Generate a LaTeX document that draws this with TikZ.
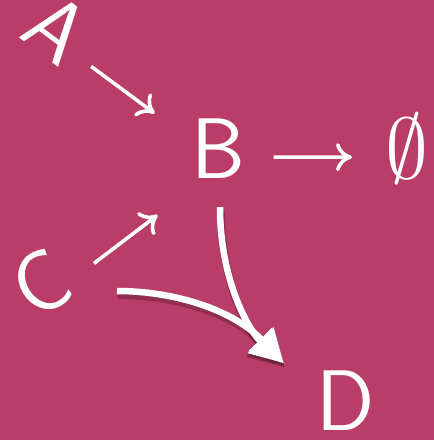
\documentclass[tikz,border=0pt]{standalone}
\usetikzlibrary{arrows.meta}
\definecolor{raspberry}{RGB}{185,61,104}
\begin{document}
\begin{tikzpicture}[x=1pt,y=-1pt,
        letter/.style={text=white,inner sep=0pt,font=\fontsize{86}{90}\selectfont\sffamily},
        thinarrow/.style={white,line width=3.6pt,-{Computer Modern Rightarrow[length=16pt,width=28pt]}},
        fatarrow/.style={white,line width=6.5pt,-{Triangle[length=33pt,width=33pt]}},
        fatshadow/.style={black,opacity=0.22,line width=8pt,-{Triangle[length=35pt,width=36pt]}}]
            \useasboundingbox (0,0) rectangle (434,440);
            \fill[raspberry] (0,0) rectangle (434,440);
            \node[letter,anchor=base,rotate=-37] (A) at (39,52.5) {A};
            \node[letter,anchor=base] (B) at (218.5,178) {B};
            \node[text=white,inner sep=0pt,scale=8.6,anchor=base] (E) at (407,178) {$\emptyset$};
            \node[letter,rotate=30] (C) at (41,283) {C};
            \node[letter,anchor=base] (D) at (346,430) {D};
            \draw[thinarrow,shorten <=50pt,shorten >=72pt] ([shift={(-6,8)}]A.center) -- ([shift={(-6,8)}]B.center);
            \draw[thinarrow,shorten <=54pt,shorten >=89pt] ([shift={(10,13)}]C.center) -- ([shift={(10,13)}]B.center);
            \draw[thinarrow,shorten <=55pt,shorten >=55pt] ([yshift=-9pt]B.center) -- ([yshift=-9pt]E.center);
            % shadow of the two bent arrows
            \draw[fatshadow] ([shift={(2.5,33)}]B.south) .. controls +(0,73) and +(-35,-33) .. ([shift={(-32,-3)}]D.north west);
            \draw[fatshadow] ([shift={(77,12)}]C.center) .. controls +(58,0) and +(-50,-53) .. ([shift={(-32,-3)}]D.north west);
            \draw[fatarrow] ([shift={(1.5,29)}]B.south) .. controls +(0,73) and +(-35,-33) .. ([shift={(-33,-7)}]D.north west);
            \draw[fatarrow] ([shift={(76,8)}]C.center) .. controls +(58,0) and +(-50,-53) .. ([shift={(-33,-7)}]D.north west);
        \end{tikzpicture}
\end{document}
